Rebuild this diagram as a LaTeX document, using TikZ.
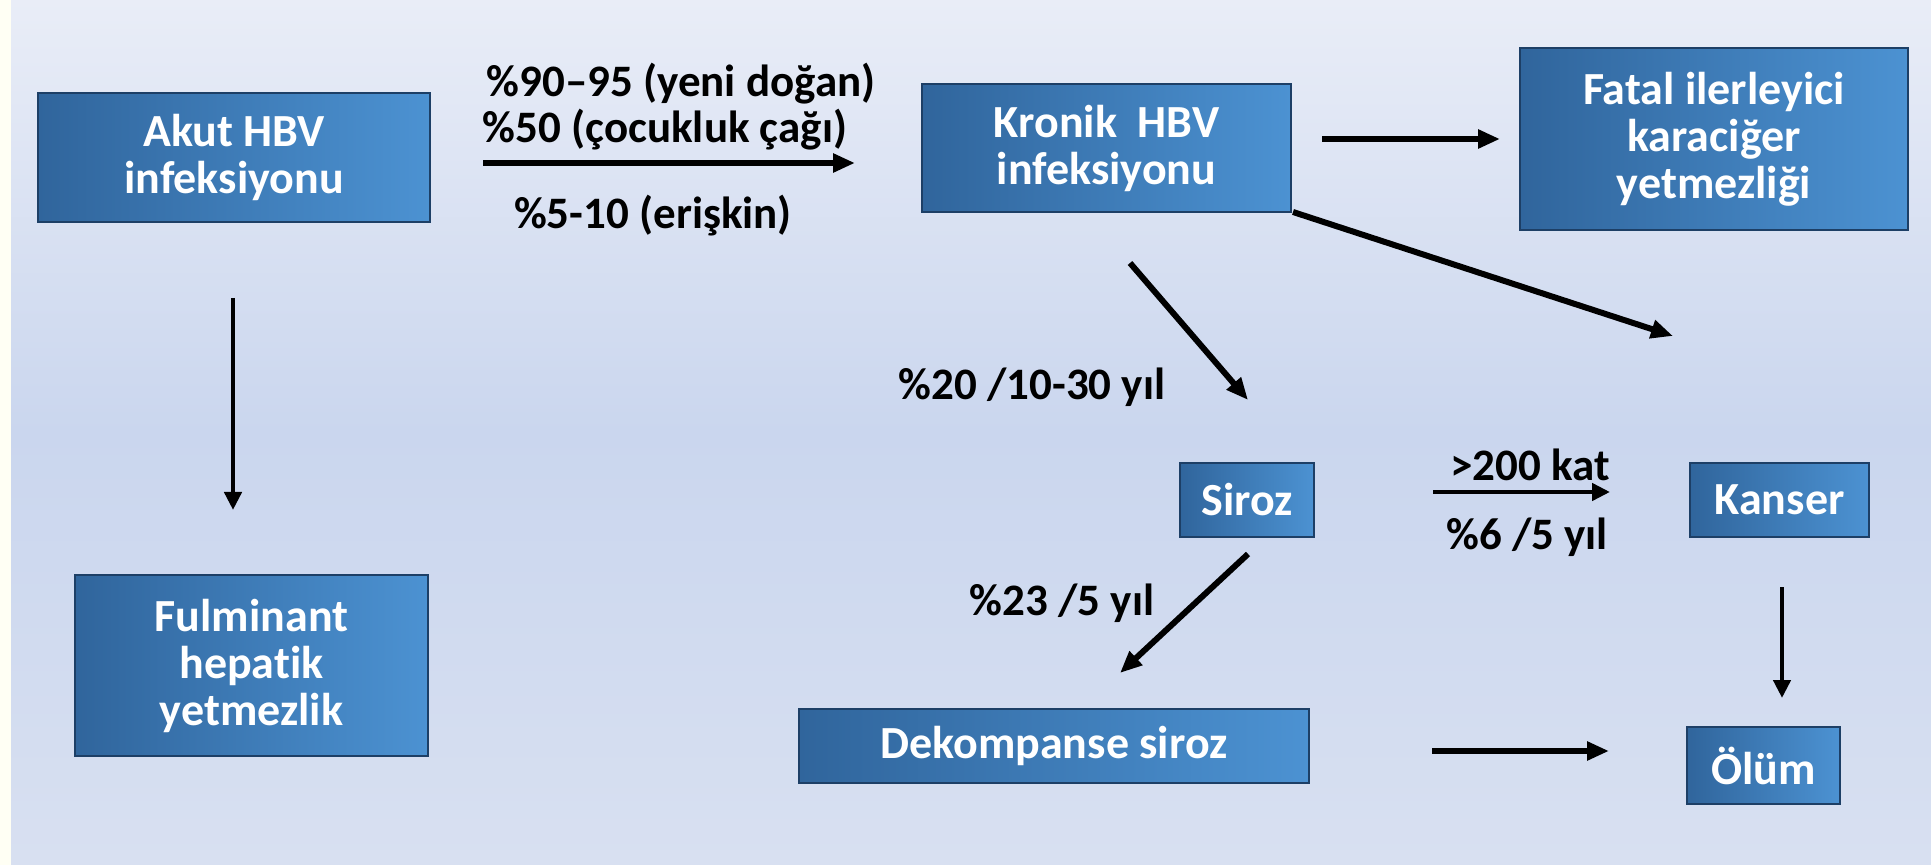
\documentclass[tikz,border=0pt]{standalone}
\usepackage{fontspec}
\setmainfont{Carlito}[Ligatures=NoCommon]
\usetikzlibrary{arrows.meta}
\definecolor{bgtop}{HTML}{E9EDF7}
\definecolor{bgmid}{HTML}{CAD6EE}
\definecolor{bgbot}{HTML}{D8E0F1}
\definecolor{cream}{HTML}{FFFFF4}
\definecolor{boxL}{HTML}{30659C}
\definecolor{boxR}{HTML}{4C92D2}
\definecolor{boxborder}{HTML}{1D3F66}
\begin{document}
\begin{tikzpicture}[x=0.5pt,y=-0.5pt,
  box/.style={draw=boxborder, line width=1.1pt, left color=boxL, right color=boxR,
    text=white, font=\bfseries\fontsize{23}{23.5}\selectfont, align=center, inner sep=0pt},
  lbl/.style={text=black, font=\bfseries\fontsize{22.5}{24}\selectfont, inner sep=0pt},
  arr/.style={line width=3pt, -{Triangle[length=11pt,width=9pt]}},
  thinarr/.style={line width=2.2pt, -{Triangle[length=9pt,width=8.5pt]}}]
\useasboundingbox (0,0) rectangle (1931,865);
\shade[top color=bgtop, bottom color=bgbot, middle color=bgmid] (11,0) rectangle (1931,865);
\fill[cream] (0,0) rectangle (11,865);

% boxes
\node[box, minimum width=196pt, minimum height=64.5pt] (akut) at (234,157.5) {Akut HBV\\infeksiyonu};
\node[box, minimum width=184.5pt, minimum height=64pt] (kronik) at (1106.5,148) {Kronik\ \ HBV\\infeksiyonu};
\node[box, minimum width=194pt, minimum height=91pt] (fatal) at (1714,139) {Fatal ilerleyici\\karaciğer\\yetmezliği};
\node[box, minimum width=176.5pt, minimum height=90.5pt] (fulm) at (251.5,665.5) {Fulminant\\hepatik\\yetmezlik};
\node[box, minimum width=67pt, minimum height=37pt] (siroz) at (1247,500) {Siroz};
\node[box, minimum width=89.5pt, minimum height=37pt] (kanser) at (1779.5,500) {Kanser};
\node[box, minimum width=255pt, minimum height=37pt] (dekomp) at (1054,746) {Dekompanse siroz};
\node[box, minimum width=76.5pt, minimum height=38.5pt] (olum) at (1763.5,765.5) {Ölüm};

% labels
\node[lbl] (l1) at (681,84) {\%90–95 (yeni doğan)};
\node[lbl] (l2) at (665,130) {\%50 (çocukluk çağı)};
\node[lbl] (l3) at (653,216) {\%5-10 (erişkin)};
\node[lbl] (l4) at (1032,387) {\%20 /10-30 yıl};
\node[lbl] (l5) at (1530,465) {>200 kat};
\node[lbl] (l6) at (1527,537) {\%6 /5 yıl};
\node[lbl] (l7) at (1062,603) {\%23 /5 yıl};

% arrow end points
\coordinate (a1s) at (483,163);  \coordinate (a1e) at (855,163);
\coordinate (a2s) at (1322,139); \coordinate (a2e) at (1500,139);
\coordinate (a3s) at (1293,212); \coordinate (a3e) at (1673,336);
\coordinate (a4s) at (1130,263); \coordinate (a4e) at (1248,400);
\coordinate (a5s) at (233,298);  \coordinate (a5e) at (233,510);
\coordinate (a6s) at (1433,492); \coordinate (a6e) at (1610,492);
\coordinate (a7s) at (1248,554); \coordinate (a7e) at (1120,673);
\coordinate (a8s) at (1782,587); \coordinate (a8e) at (1782,698);
\coordinate (a9s) at (1432,751); \coordinate (a9e) at (1609,751);

\draw[arr] (a1s) -- (a1e);
\draw[arr] (a2s) -- (a2e);
\draw[arr] (a3s) -- (a3e);
\draw[arr] (a4s) -- (a4e);
\draw[thinarr] (a5s) -- (a5e);
\draw[thinarr] (a6s) -- (a6e);
\draw[arr] (a7s) -- (a7e);
\draw[thinarr] (a8s) -- (a8e);
\draw[arr] (a9s) -- (a9e);
\end{tikzpicture}
\end{document}
